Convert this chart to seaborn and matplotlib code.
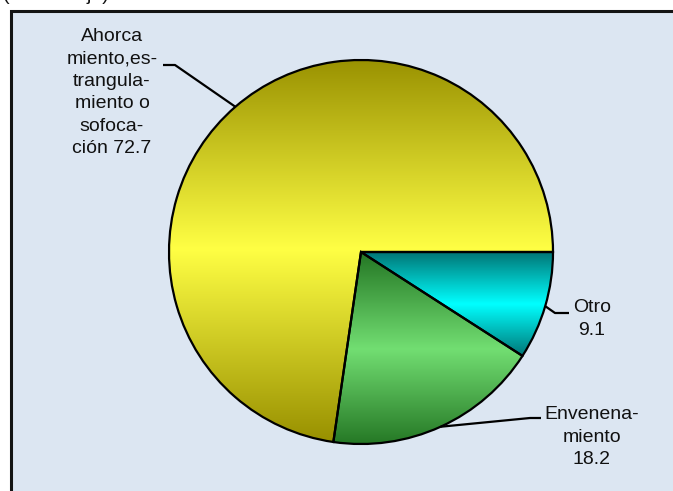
import numpy as np
import matplotlib
matplotlib.use("Agg")
import matplotlib.pyplot as plt
import seaborn as sns
from matplotlib.patches import Rectangle
from matplotlib.colors import to_rgb

# Data: share of cases by method (percent)
categories = ["Otro", "Envenenamiento", "Ahorcamiento, estrangulamiento o sofocación"]
label_names = ["Otro", "Envenena-\nmiento", "Ahorca\nmiento,es-\ntrangula-\nmiento o\nsofoca-\nción"]
value_sep = ["\n", "\n", " "]
values = [9.1, 18.2, 72.7]
units_title = "(Porcentaje)"

# Slice gradients: (edge tone, centre tone)
slice_gradients = [("#007676", "#00FFFF"), ("#237523", "#72DE72"), ("#989000", "#FFFF44")]

W, H = 673, 491
sns.set_theme(style="white")
plt.rcParams["font.family"] = ["Liberation Sans", "DejaVu Sans"]

fig = plt.figure(figsize=(W / 100, H / 100), dpi=100)
ax = fig.add_axes([0, 0, 1, 1])


def py(y):
    """Convert a top-down pixel row to the y-up data coordinate."""
    return H - y


# Chart area panel
ax.add_patch(Rectangle((10.5, -20), 700, py(10.5) + 20, facecolor="#DCE6F2",
                       edgecolor="#141414", lw=2.2, zorder=0))

ax.text(3, py(-0.5), units_title, ha="left", va="baseline", fontsize=14,
        color="#111111", zorder=5)

cx, cy, r = 361, py(252), 192
wedges, _ = ax.pie(values, center=(cx, cy), radius=r, startangle=0,
                   counterclock=False, frame=True,
                   wedgeprops=dict(facecolor="none", edgecolor="black",
                                   linewidth=1.6))


def vertical_gradient(dark, light, n=256):
    d = np.array(to_rgb(dark))
    l = np.array(to_rgb(light))
    t = np.linspace(0, 1, n)
    s = 1 - np.abs(2 * t - 1)
    return (d[None, :] + (l - d)[None, :] * s[:, None])[:, None, :]


for w, (dark, light) in zip(wedges, slice_gradients):
    w.set_zorder(3)
    verts = w.get_patch_transform().transform(w.get_path().vertices)
    x0, y0 = verts.min(axis=0)
    x1, y1 = verts.max(axis=0)
    img = ax.imshow(vertical_gradient(dark, light), extent=(x0, x1, y0, y1),
                    origin="lower", aspect="auto", interpolation="bilinear",
                    zorder=2)
    img.set_clip_path(w)

# Leader lines and labels
elbows = [((555, 313), (569, 313)), ((530, 418), (541, 418)), ((175, 65), (163, 65))]
text_pos = [(592, 319), (592, 437), (112, 92.5)]

cum = 0.0
for v, name, sep, (e1, e2), (tx, ty) in zip(values, label_names, value_sep, elbows, text_pos):
    mid = -np.deg2rad((cum + v / 2) / 100 * 360)
    cum += v
    ax_, ay_ = cx + r * np.cos(mid), cy + r * np.sin(mid)
    ax.plot([ax_, e1[0], e2[0]], [ay_, py(e1[1]), py(e2[1])], color="black",
            lw=1.6, solid_capstyle="butt", zorder=4)
    ax.text(tx, py(ty), f"{name}{sep}{v}", ha="center", va="center",
            multialignment="center", fontsize=14, linespacing=1.42,
            color="#111111", zorder=5)

ax.set_xlim(0, W)
ax.set_ylim(0, H)
ax.set_aspect("auto")
ax.axis("off")
fig.savefig("out.png", dpi=100, facecolor="white")
